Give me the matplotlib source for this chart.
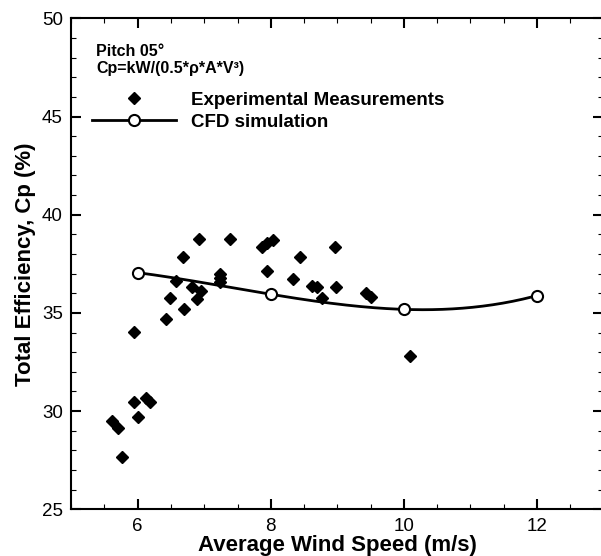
import numpy as np
import matplotlib
matplotlib.use('Agg')
import matplotlib.pyplot as plt
import matplotlib.ticker as plticker

plt.rcParams['font.family'] = 'sans-serif'
plt.rcParams['font.sans-serif'] = ['Liberation Sans', 'DejaVu Sans']

exp_speed = [6.92, 7.39, 6.68, 7.87, 7.94, 8.03, 7.94, 8.44, 8.97, 8.33,
             8.62, 8.69, 8.98, 8.77, 6.57, 6.81, 6.95, 7.23, 7.23, 7.23,
             6.48, 6.89, 6.70, 6.43, 5.95, 5.95, 6.13, 6.19, 6.00, 5.62,
             5.71, 5.76, 9.43, 9.51, 10.10]
exp_cp = [38.75, 38.75, 37.83, 38.37, 38.54, 38.71, 37.15, 37.86, 38.34, 36.73,
          36.39, 36.30, 36.30, 35.77, 36.64, 36.30, 36.13, 36.98, 36.76, 36.59,
          35.74, 35.71, 35.18, 34.69, 34.01, 30.48, 30.68, 30.48, 29.72, 29.51,
          29.16, 27.68, 36.00, 35.82, 32.81]

# CFD
cfd_speed = [6, 8, 10, 12]
cfd_cp = [37.05, 35.95, 35.18, 35.88]

fig = plt.figure(figsize=(6.01, 5.56), dpi=100)
ax = fig.add_axes([0.1185, 0.084, 0.8854, 0.883])

# glatte Kurve durch die CFD-Punkte
coef = np.polyfit(cfd_speed, cfd_cp, 3)
xs = np.linspace(cfd_speed[0], cfd_speed[-1], 200)
ax.plot(xs, np.polyval(coef, xs), color='k', lw=2, zorder=2)
ax.plot(cfd_speed, cfd_cp, ls='none', marker='o', ms=8, mfc='w', mec='k', mew=1.5, zorder=4)

ax.plot(exp_speed, exp_cp, ls='none', marker='D', ms=6, color='k', zorder=3)

# Legende
h1, = ax.plot([], [], ls='none', marker='D', ms=6, color='k')
h2, = ax.plot([], [], color='k', lw=2, marker='o', ms=8, mfc='w', mec='k', mew=1.5)
ax.legend([h1, h2], ['Experimental Measurements', 'CFD simulation'],
          loc='upper left', bbox_to_anchor=(0.039, 0.851), frameon=False,
          borderpad=0, borderaxespad=0, handlelength=4.5, handletextpad=0.8,
          labelspacing=0.28, prop={'weight': 'bold', 'size': 13.5})

ax.text(0.047, 0.947, 'Pitch 05\u00b0', transform=ax.transAxes,
        fontsize=11.5, fontweight='bold', va='top', ha='left')
ax.text(0.047, 0.914, 'Cp=kW/(0.5*\u03c1*A*V\u00b3)', transform=ax.transAxes,
        fontsize=11.5, fontweight='bold', va='top', ha='left')

ax.set_xlim(5, 13)
ax.set_ylim(25, 50)
ax.xaxis.set_major_locator(plticker.MultipleLocator(2))
ax.xaxis.set_minor_locator(plticker.MultipleLocator(0.5))
ax.yaxis.set_major_locator(plticker.MultipleLocator(5))
ax.yaxis.set_minor_locator(plticker.MultipleLocator(1))
ax.tick_params(which='both', direction='in', top=True, right=True, labelsize=13.5)
ax.tick_params(which='major', length=7, width=1.5, pad=6)
ax.tick_params(which='minor', length=3.5, width=0.8)
for s in ax.spines.values():
    s.set_linewidth(1.5)

ax.set_xlabel('Average Wind Speed (m/s)', fontsize=16, fontweight='bold', labelpad=0)
ax.set_ylabel('Total Efficiency, Cp (%)', fontsize=16, fontweight='bold', labelpad=4)

fig.savefig('out.png', dpi=100)
